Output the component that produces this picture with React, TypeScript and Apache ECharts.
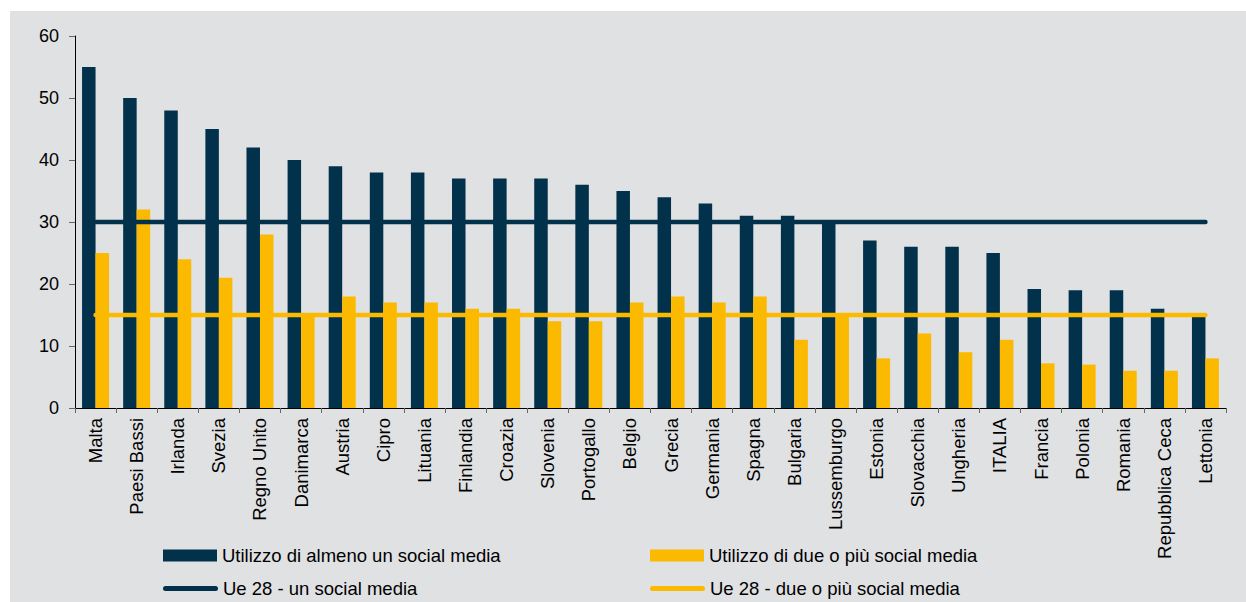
import React, { useEffect, useRef } from "react";
import * as echarts from "echarts";

const categories = [
  "Malta", "Paesi Bassi", "Irlanda", "Svezia", "Regno Unito", "Danimarca", "Austria",
  "Cipro", "Lituania", "Finlandia", "Croazia", "Slovenia", "Portogallo", "Belgio",
  "Grecia", "Germania", "Spagna", "Bulgaria", "Lussemburgo", "Estonia", "Slovacchia",
  "Ungheria", "ITALIA", "Francia", "Polonia", "Romania", "Repubblica Ceca", "Lettonia",
];
const almenoUno = [55, 50, 48, 45, 42, 40, 39, 38, 38, 37, 37, 37, 36, 35, 34, 33, 31, 31, 30, 27, 26, 26, 25, 19.2, 19, 19, 16, 15];
const dueOPiu = [25, 32, 24, 21, 28, 15, 18, 17, 17, 16, 16, 14, 14, 17, 18, 17, 18, 11, 15, 8, 12, 9, 11, 7.2, 7, 6, 6, 8];
const ue28Uno = 30;
const ue28Due = 15;
const yTicks = { min: 0, max: 60, interval: 10 };

const seriesNames = [
  "Utilizzo di almeno un social media",
  "Utilizzo di due o più social media",
  "Ue 28 - un social media",
  "Ue 28 - due o più social media",
];

const NAVY = "#02324b";
const YELLOW = "#fbba00";
const FONT = "'Liberation Sans', Arial, sans-serif";
const CAPSULE = "path://M2.5,0 L52.5,0 A2.5,2.5 0 0 1 52.5,5 L2.5,5 A2.5,2.5 0 0 1 2.5,0 Z";

export default function App() {
  const ref = useRef<HTMLDivElement>(null);
  useEffect(() => {
    if (!ref.current) return;
    const chart = echarts.init(ref.current, undefined, { renderer: "svg" });
    const legendBase = {
      orient: "horizontal",
      padding: 0,
      itemGap: 0,
      textStyle: { color: "#000", fontSize: 18.5, fontFamily: FONT },
    };
    chart.setOption({
      animation: false,
      backgroundColor: "#ffffff",
      graphic: {
        elements: [
          {
            type: "rect",
            silent: true,
            z: -10,
            shape: { x: 10, y: 11, width: 1236, height: 591 },
            style: { fill: "#e0e1e3" },
          },
        ],
      },
      grid: { left: 75, right: 20, top: 36, bottom: 194, containLabel: false },
      legend: [
        { ...legendBase, left: 163, top: 546, itemWidth: 54, itemHeight: 12, icon: "rect", data: [seriesNames[0]] },
        { ...legendBase, left: 650, top: 546, itemWidth: 54, itemHeight: 12, icon: "rect", data: [seriesNames[1]] },
        { ...legendBase, left: 163, top: 579, itemWidth: 55, itemHeight: 5, icon: CAPSULE, data: [seriesNames[2]] },
        { ...legendBase, left: 650, top: 579, itemWidth: 55, itemHeight: 5, icon: CAPSULE, data: [seriesNames[3]] },
      ],
      xAxis: {
        type: "category",
        data: categories,
        boundaryGap: true,
        axisLine: { show: true, lineStyle: { color: "#000", width: 1 } },
        axisTick: { show: true, length: 5, lineStyle: { color: "#666" } },
        axisLabel: {
          interval: 0,
          rotate: 90,
          margin: 10,
          color: "#000",
          fontSize: 18.5,
          fontFamily: FONT,
        },
        splitLine: { show: false },
      },
      yAxis: {
        type: "value",
        min: yTicks.min,
        max: yTicks.max,
        interval: yTicks.interval,
        axisLine: { show: true, lineStyle: { color: "#000", width: 1 } },
        axisTick: { show: true, length: 6, lineStyle: { color: "#666" } },
        axisLabel: { color: "#000", fontSize: 18, fontFamily: FONT, margin: 16 },
        splitLine: { show: false },
      },
      series: [
        {
          name: seriesNames[0],
          type: "bar",
          data: almenoUno,
          barWidth: 13.5,
          barGap: "0%",
          itemStyle: { color: NAVY },
          z: 2,
        },
        {
          name: seriesNames[1],
          type: "bar",
          data: dueOPiu,
          barWidth: 13.5,
          barGap: "0%",
          itemStyle: { color: YELLOW },
          z: 2,
        },
        {
          name: seriesNames[2],
          type: "line",
          data: categories.map(() => ue28Uno),
          symbol: "none",
          lineStyle: { color: NAVY, width: 4.5, cap: "round" },
          itemStyle: { color: NAVY },
          z: 5,
        },
        {
          name: seriesNames[3],
          type: "line",
          data: categories.map(() => ue28Due),
          symbol: "none",
          lineStyle: { color: YELLOW, width: 4.5, cap: "round" },
          itemStyle: { color: YELLOW },
          z: 5,
        },
      ],
    });
    return () => chart.dispose();
  }, []);
  return (
    <div
      ref={ref}
      style={{ position: "fixed", left: 0, top: 0, width: 1246, height: 602 }}
    />
  );
}
